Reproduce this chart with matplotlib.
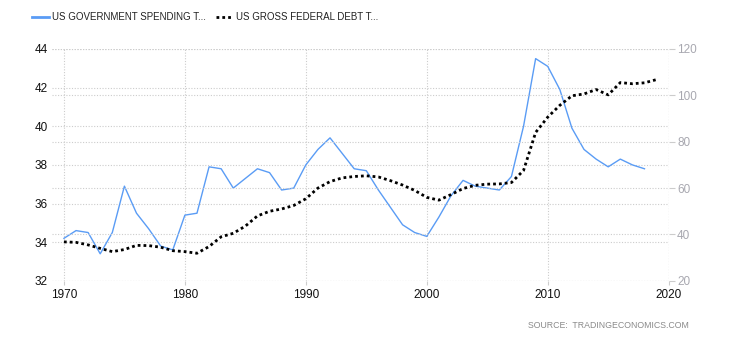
import matplotlib

matplotlib.use("Agg")

import matplotlib.pyplot as plt
from matplotlib.lines import Line2D

plt.rcParams["font.family"] = ["Liberation Sans", "DejaVu Sans"]

# annual values, 1970 onwards
SPENDING_YEARS = list(range(1970, 2019))
SPENDING = [
    34.2, 34.6, 34.5, 33.4, 34.5, 36.9, 35.5, 34.7, 33.8, 33.6,
    35.4, 35.5, 37.9, 37.8, 36.8, 37.3, 37.8, 37.6, 36.7, 36.8,
    38.0, 38.8, 39.4, 38.6, 37.8, 37.7, 36.7, 35.8, 34.9, 34.5,
    34.3, 35.3, 36.4, 37.2, 36.9, 36.8, 36.7, 37.4, 40.0, 43.5,
    43.1, 41.9, 39.9, 38.8, 38.3, 37.9, 38.3, 38.0, 37.8,
]

DEBT_YEARS = list(range(1970, 2020))
DEBT = [
    36.8, 36.6, 35.5, 34.0, 32.6, 33.5, 35.3, 35.2, 34.5, 33.0,
    32.6, 31.9, 34.8, 39.0, 40.5, 43.6, 48.0, 50.0, 51.0, 52.5,
    55.4, 60.0, 62.8, 64.4, 65.0, 65.3, 64.8, 63.2, 61.3, 59.0,
    56.0, 54.8, 57.2, 59.8, 61.2, 61.7, 61.8, 62.4, 67.6, 84.0,
    90.6, 95.7, 99.8, 100.6, 102.5, 100.2, 105.5, 105.0, 105.4, 106.8,
]

LEFT_TICKS = [32, 34, 36, 38, 40, 42, 44]
RIGHT_TICKS = [20, 40, 60, 80, 100, 120]
X_TICKS = [1970, 1980, 1990, 2000, 2010, 2020]

BLUE = "#5a9cf5"
GRID = "#cccccc"
DOTS = (0, (1, 1.1))


def main():
    fig = plt.figure(figsize=(7.3, 3.4), dpi=100)
    ax = fig.add_axes([0.071, 0.174, 0.845, 0.682])
    ax2 = ax.twinx()

    ax.plot(SPENDING_YEARS, SPENDING, color=BLUE, linewidth=1.0, zorder=3)
    ax2.plot(DEBT_YEARS, DEBT, color="black", linewidth=2.0,
             linestyle=DOTS, zorder=3)

    ax.set_xlim(1969, 2020)
    ax.set_ylim(32, 44)
    ax2.set_ylim(20, 120)
    ax.set_xticks(X_TICKS)
    ax.set_yticks(LEFT_TICKS)
    ax2.set_yticks(RIGHT_TICKS)

    for a in (ax, ax2):
        for side in a.spines.values():
            side.set_visible(False)
        a.grid(True, axis="y", color=GRID, linestyle=(0, (1, 1.5)), linewidth=0.8)
    ax.grid(True, axis="x", color=GRID, linestyle=(0, (1, 1.5)), linewidth=0.8)
    ax.axvline(2020, color=GRID, linestyle=(0, (1, 1.5)), linewidth=0.8)
    ax.set_axisbelow(True)
    ax2.set_axisbelow(True)

    ax.tick_params(axis="y", length=0, pad=3, labelsize=8.5, labelcolor="#111111")
    ax.tick_params(axis="x", length=3, color=GRID, pad=3, labelsize=8.5,
                   labelcolor="#111111")
    ax2.tick_params(axis="y", length=4, color=GRID, pad=2, labelsize=8.5,
                    labelcolor="#a8a8b0")

    handles = [
        Line2D([], [], color=BLUE, linewidth=2.0),
        Line2D([], [], color="black", linewidth=2.0, linestyle=DOTS),
    ]
    labels = ["US GOVERNMENT SPENDING T...", "US GROSS FEDERAL DEBT T..."]
    fig.legend(handles, labels, loc="center left", bbox_to_anchor=(0.032, 0.95),
               ncol=2, frameon=False, fontsize=7, handlelength=1.7,
               handletextpad=0.3, columnspacing=1.1, labelcolor="#222222")

    fig.text(0.943, 0.043, "SOURCE:  TRADINGECONOMICS.COM", ha="right",
             va="center", fontsize=6.3, color="#8a8a8a")

    fig.savefig("out.png", dpi=100)


if __name__ == "__main__":
    main()
